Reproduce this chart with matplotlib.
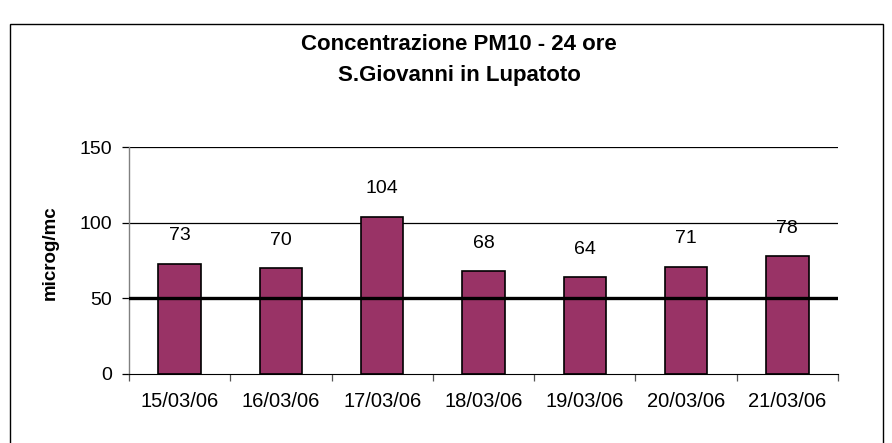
import matplotlib
matplotlib.use("Agg")
import matplotlib.pyplot as plt
from matplotlib.patches import Rectangle
import numpy as np

plt.rcParams['font.family'] = ['Liberation Sans', 'DejaVu Sans']

dates = ["15/03/06", "16/03/06", "17/03/06", "18/03/06", "19/03/06", "20/03/06", "21/03/06"]
values = [73, 70, 104, 68, 64, 71, 78]
limit = 50
yticks = [0, 50, 100, 150]

fig = plt.figure(figsize=(8.92, 4.43), dpi=100)
fig.patch.set_facecolor('white')
fig.patches.append(Rectangle((10/892, -0.05), (883-10)/892, 1.05 - 24/443,
                             transform=fig.transFigure, fill=False,
                             edgecolor='black', linewidth=1.0))

ax = fig.add_axes([129/892, 69/443, (838-129)/892, (374-147)/443])
x = np.arange(len(dates))
ax.set_xlim(-0.5, len(dates) - 0.5)
ax.set_ylim(0, 150)

for yv in yticks[1:]:
    ax.axhline(yv, color='black', linewidth=0.9, zorder=1)

ax.bar(x, values, width=0.42, color='#993366', edgecolor='black', linewidth=1.2, zorder=2)
ax.axhline(limit, color='black', linewidth=2.4, zorder=3)

for xi, v in zip(x, values):
    ax.annotate(str(v), (xi, v), xytext=(0, 20), textcoords='offset points',
                ha='center', va='center', fontsize=14)

ax.set_yticks(yticks)
ax.set_yticklabels([str(t) for t in yticks], fontsize=14)
ax.set_xticks(x)
ax.set_xticklabels(dates, fontsize=14.5)
ax.tick_params(axis='x', length=0, pad=13)
ax.set_xticks(np.arange(-0.5, len(dates)), minor=True)
ax.tick_params(axis='x', which='minor', length=5, width=0.9, color='#555555', direction='out')
ax.tick_params(axis='y', length=5, width=0.9, direction='out', pad=7)

ax.spines['top'].set_visible(False)
ax.spines['right'].set_visible(False)
ax.spines['left'].set_color('#808080')
ax.spines['bottom'].set_color('black')
ax.spines['left'].set_linewidth(1.0)

fig.text(50/892, 1 - 253/443, "microg/mc", rotation=90, ha='center', va='center',
         fontsize=13.5, fontweight='bold')

fig.text(459/892, 1 - 45/443, "Concentrazione PM10 - 24 ore", ha='center', va='center',
         fontsize=16, fontweight='bold')
fig.text(459/892, 1 - 75/443, "S.Giovanni in Lupatoto", ha='center', va='center',
         fontsize=16, fontweight='bold')

fig.savefig("out.png", dpi=100)
